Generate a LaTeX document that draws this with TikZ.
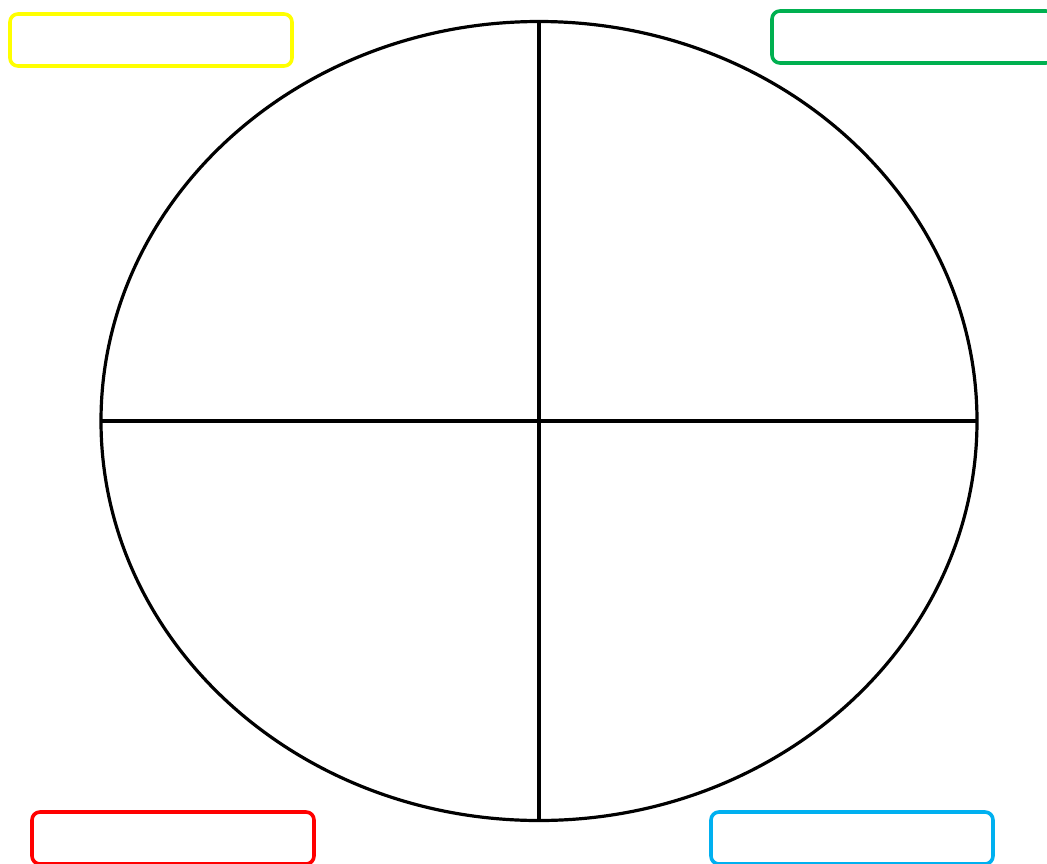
\documentclass[tikz,border=0pt]{standalone}
\usetikzlibrary{shapes.geometric}
\definecolor{boxyellow}{RGB}{255,255,0}
\definecolor{boxgreen}{RGB}{0,176,80}
\definecolor{boxred}{RGB}{255,0,0}
\definecolor{boxblue}{RGB}{0,176,240}
\tikzset{
  labelbox/.style={draw=#1, line width=3.6pt, rounded corners=8pt, minimum width=282pt, minimum height=52pt, inner sep=0pt, outer sep=0pt, anchor=north west},
  axis/.style={line width=3.2pt, draw=black},
}
\begin{document}
\begin{tikzpicture}[x=1pt,y=-1pt]
\useasboundingbox (0,0) rectangle (1047,863);
\node[ellipse, draw=black, line width=3.2pt, outer sep=0pt, minimum width=876pt, minimum height=799pt, inner sep=0pt] (e) at (539,421) {};
\draw[axis] (e.north) -- (e.south);
\draw[axis] (e.west) -- (e.east);
\node[labelbox=boxyellow] (y) at (10,14) {};
\node[labelbox=boxgreen] (g) at (772,11) {};
\node[labelbox=boxred] (r) at (32,812) {};
\node[labelbox=boxblue] (b) at (711,812) {};
\end{tikzpicture}
\end{document}
